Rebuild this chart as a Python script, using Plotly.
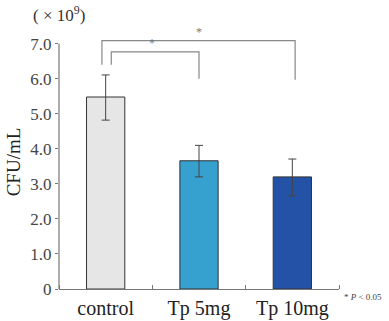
import plotly.graph_objects as go

categories = ["control", "Tp 5mg", "Tp 10mg"]
values = [5.48, 3.66, 3.20]
err_up = [0.63, 0.44, 0.51]
err_down = [0.66, 0.46, 0.54]
colors = ["#e6e6e6", "#36a0cf", "#2352a6"]
ytick_vals = [0, 1, 2, 3, 4, 5, 6, 7]
ytick_text = ["0", "1.0", "2.0", "3.0", "4.0", "5.0", "6.0", "7.0"]

FONT = "Liberation Serif"
x = list(range(len(categories)))

fig = go.Figure()
fig.add_trace(go.Bar(
    x=x, y=values, width=0.41,
    marker=dict(color=colors, line=dict(color="#333333", width=1)),
    error_y=dict(type="data", symmetric=False, array=err_up, arrayminus=err_down,
                 color="#444444", thickness=1, width=4),
))

# y axis line (0 to 7.0 only)
fig.add_shape(type="line", xref="paper", yref="y", x0=0, x1=0, y0=0, y1=7,
              line=dict(color="#777777", width=1.2))

gc = "#888888"
fig.add_shape(type="path", xref="x", yref="y",
              path="M -0.04 6.4 L -0.04 7.09 L 2.03 7.09 L 2.03 5.97",
              line=dict(color=gc, width=1.2))
fig.add_shape(type="path", xref="x", yref="y",
              path="M 0.06 6.4 L 0.06 6.77 L 1.0 6.77 L 1.0 6.0",
              line=dict(color=gc, width=1.2))

fig.add_annotation(x=1.0, y=7.09, yref="y", text="*", showarrow=False,
                   yanchor="bottom", font=dict(family=FONT, size=12, color="#777777"))
fig.add_annotation(x=0.5, y=6.77, yref="y", text="*", showarrow=False,
                   yanchor="bottom", font=dict(family=FONT, size=12, color="#777777"))

fig.add_annotation(xref="paper", yref="paper", x=0.0, y=1.03, xanchor="center", yanchor="bottom",
                   text="( × 10<sup>9</sup>)", showarrow=False,
                   font=dict(family=FONT, size=17, color="#333333"))
fig.add_annotation(xref="paper", yref="paper", x=1.01, y=-0.03, xanchor="left", yanchor="middle",
                   text="* <i>P</i> < 0.05", showarrow=False,
                   font=dict(family=FONT, size=9, color="#444444"))

fig.update_layout(
    width=389, height=321,
    margin=dict(l=59, r=50, t=35, b=32, autoexpand=False),
    paper_bgcolor="white", plot_bgcolor="white",
    showlegend=False,
    font=dict(family=FONT, color="#333333"),
    xaxis=dict(range=[-0.5, 2.5], tickvals=x, ticktext=categories, ticks="",
               automargin=False,
               showline=True, linecolor="#777777", linewidth=1.2, showgrid=False,
               zeroline=False, tickfont=dict(family=FONT, size=20, color="#222222"),
               ticklabelstandoff=1,
               minor=dict(tick0=0.5, dtick=1, ticks="inside", ticklen=4, tickcolor="#777777")),
    yaxis=dict(range=[0, 7.25], tickvals=ytick_vals, ticktext=ytick_text,
               automargin=False,
               ticks="outside", ticklen=3, tickcolor="#777777", showline=False,
               showgrid=False, zeroline=False,
               tickfont=dict(family=FONT, size=17, color="#444444"),
               title=dict(text="CFU/mL", font=dict(family=FONT, size=19, color="#222222"), standoff=4)),
)

fig.write_html("out.html")
